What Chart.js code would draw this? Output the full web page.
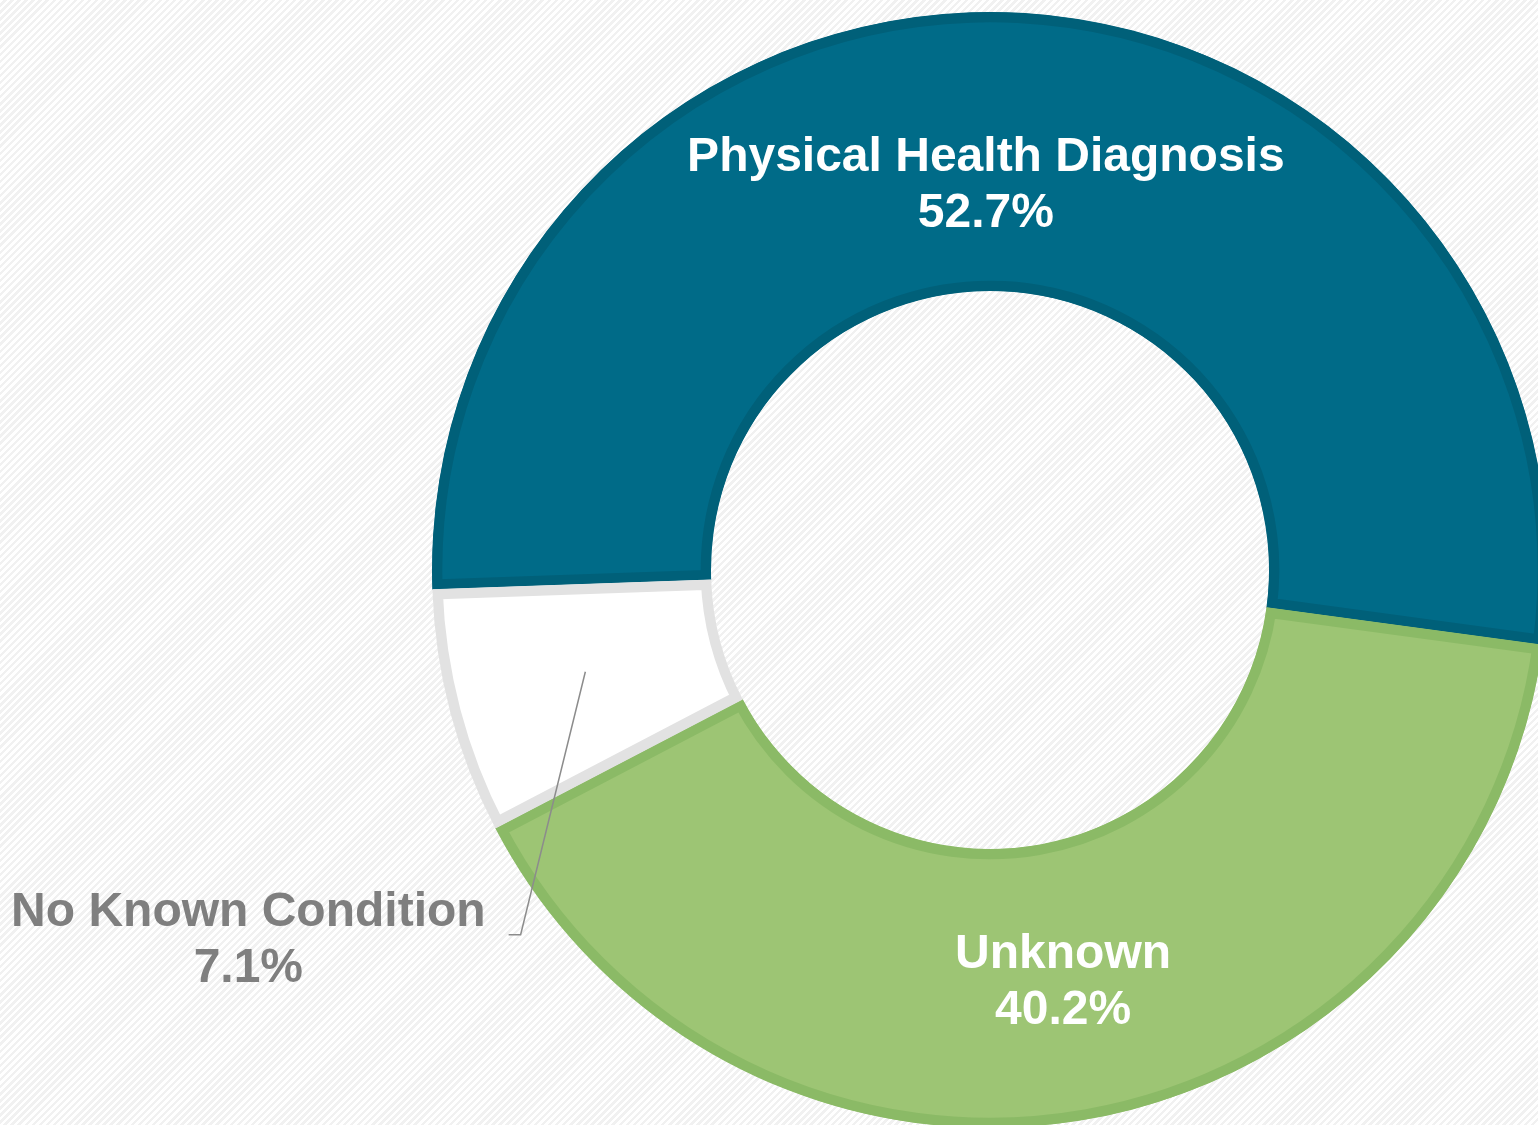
<!DOCTYPE html>
<html>
<head>
<meta charset="utf-8">
<script src="https://cdn.jsdelivr.net/npm/chart.js@4.4.1/dist/chart.umd.min.js"></script>
<style>
    html, body {
        margin: 0;
        padding: 0;
        overflow: hidden;
        width: 1538px;
        height: 1125px;
        background-color: #fbfbfb;
        background-image: repeating-linear-gradient(135deg, #ffffff 0px, #ffffff 2.5px, #f1f1f1 2.5px, #f1f1f1 5px);
    }
    #conditionChart {
        position: absolute;
        left: 0;
        top: 0;
    }
</style>
</head>
<body>
<canvas id="conditionChart" width="1560" height="1140"></canvas>
<script>
    const categories = ['Physical Health Diagnosis', 'Unknown', 'No Known Condition'];
    const shares = [52.7, 40.2, 7.1];
    const shareLabels = ['52.7%', '40.2%', '7.1%'];

    const fillColors = ['#006b88', '#9dc574', '#ffffff'];
    const edgeColors = ['#006079', '#8bba66', '#e2e2e2'];
    const textColors = ['#ffffff', '#ffffff', '#7f7f7f'];

    // label nudges away from each slice's mid point, and which slice gets a leader line
    const labelShift = [[-25, 29], [1, -4], [-337, 259]];
    const leaderFor = [false, false, true];

    const sliceLabels = {
        id: 'sliceLabels',
        afterDatasetsDraw(chart) {
            const ctx = chart.ctx;
            const arcs = chart.getDatasetMeta(0).data;
            ctx.save();
            ctx.font = 'bold 48px "Liberation Sans", Arial, sans-serif';
            ctx.textAlign = 'center';
            ctx.textBaseline = 'alphabetic';
            arcs.forEach((arc, i) => {
                const mid = arc.tooltipPosition(true);
                const cx = mid.x + labelShift[i][0];
                const cy = mid.y + labelShift[i][1];

                if (leaderFor[i]) {
                    const halfWidth = ctx.measureText(categories[i]).width / 2;
                    const endX = cx + halfWidth + 35;
                    const endY = cy - 1;
                    ctx.strokeStyle = '#8c8c8c';
                    ctx.lineWidth = 1.5;
                    ctx.beginPath();
                    ctx.moveTo(mid.x, mid.y - 5);
                    ctx.lineTo(endX, endY);
                    ctx.lineTo(endX - 12, endY);
                    ctx.stroke();
                }

                ctx.fillStyle = textColors[i];
                ctx.fillText(categories[i], cx, cy - 10);
                ctx.fillText(shareLabels[i], cx, cy + 46);
            });
            ctx.restore();
        }
    };

    const ctx1 = document.getElementById('conditionChart').getContext('2d');
    const conditionChart = new Chart(ctx1, {
        type: 'doughnut',
        data: {
            labels: categories,
            datasets: [{
                data: shares,
                backgroundColor: fillColors,
                borderColor: edgeColors,
                borderWidth: 10,
                borderAlign: 'inner'
            }]
        },
        options: {
            responsive: false,
            animation: false,
            cutout: '50%',
            rotation: 268,
            layout: {
                padding: { left: 432, top: 12, right: 12, bottom: 12 }
            },
            plugins: {
                legend: { display: false },
                tooltip: { enabled: false }
            }
        },
        plugins: [sliceLabels]
    });
</script>
</body>
</html>
